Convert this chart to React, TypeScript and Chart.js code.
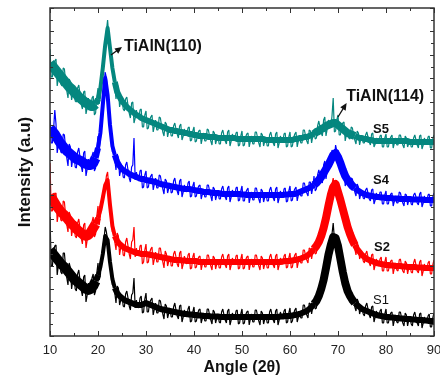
import React, { useEffect, useRef } from "react";
import { Chart, registerables } from "chart.js";

Chart.register(...registerables);

// 2θ angles (degrees), 0.25° sampling of the noisy patterns
const ANGLES = [
  10, 10.25, 10.5, 10.75, 11, 11.25, 11.5, 11.75, 12, 12.25, 12.5, 12.75, 13, 13.25, 13.5, 13.75, 14, 14.25, 14.5, 14.75,
  15, 15.25, 15.5, 15.75, 16, 16.25, 16.5, 16.75, 17, 17.25, 17.5, 17.75, 18, 18.25, 18.5, 18.75, 19, 19.25, 19.5, 19.75,
  20, 20.25, 20.5, 20.75, 21, 21.25, 21.5, 21.75, 22, 22.25, 22.5, 22.75, 23, 23.25, 23.5, 23.75, 24, 24.25, 24.5, 24.75,
  25, 25.25, 25.5, 25.75, 26, 26.25, 26.5, 26.75, 27, 27.25, 27.5, 27.75, 28, 28.25, 28.5, 28.75, 29, 29.25, 29.5, 29.75,
  30, 30.25, 30.5, 30.75, 31, 31.25, 31.5, 31.75, 32, 32.25, 32.5, 32.75, 33, 33.25, 33.5, 33.75, 34, 34.25, 34.5, 34.75,
  35, 35.25, 35.5, 35.75, 36, 36.25, 36.5, 36.75, 37, 37.25, 37.5, 37.75, 38, 38.25, 38.5, 38.75, 39, 39.25, 39.5, 39.75,
  40, 40.25, 40.5, 40.75, 41, 41.25, 41.5, 41.75, 42, 42.25, 42.5, 42.75, 43, 43.25, 43.5, 43.75, 44, 44.25, 44.5, 44.75,
  45, 45.25, 45.5, 45.75, 46, 46.25, 46.5, 46.75, 47, 47.25, 47.5, 47.75, 48, 48.25, 48.5, 48.75, 49, 49.25, 49.5, 49.75,
  50, 50.25, 50.5, 50.75, 51, 51.25, 51.5, 51.75, 52, 52.25, 52.5, 52.75, 53, 53.25, 53.5, 53.75, 54, 54.25, 54.5, 54.75,
  55, 55.25, 55.5, 55.75, 56, 56.25, 56.5, 56.75, 57, 57.25, 57.5, 57.75, 58, 58.25, 58.5, 58.75, 59, 59.25, 59.5, 59.75,
  60, 60.25, 60.5, 60.75, 61, 61.25, 61.5, 61.75, 62, 62.25, 62.5, 62.75, 63, 63.25, 63.5, 63.75, 64, 64.25, 64.5, 64.75,
  65, 65.25, 65.5, 65.75, 66, 66.25, 66.5, 66.75, 67, 67.25, 67.5, 67.75, 68, 68.25, 68.5, 68.75, 69, 69.25, 69.5, 69.75,
  70, 70.25, 70.5, 70.75, 71, 71.25, 71.5, 71.75, 72, 72.25, 72.5, 72.75, 73, 73.25, 73.5, 73.75, 74, 74.25, 74.5, 74.75,
  75, 75.25, 75.5, 75.75, 76, 76.25, 76.5, 76.75, 77, 77.25, 77.5, 77.75, 78, 78.25, 78.5, 78.75, 79, 79.25, 79.5, 79.75,
  80, 80.25, 80.5, 80.75, 81, 81.25, 81.5, 81.75, 82, 82.25, 82.5, 82.75, 83, 83.25, 83.5, 83.75, 84, 84.25, 84.5, 84.75,
  85, 85.25, 85.5, 85.75, 86, 86.25, 86.5, 86.75, 87, 87.25, 87.5, 87.75, 88, 88.25, 88.5, 88.75, 89, 89.25, 89.5, 89.75,
  90,
];

// 2θ angles (degrees), 0.5° sampling of the band centres
const CORE_ANGLES = [
  10, 10.5, 11, 11.5, 12, 12.5, 13, 13.5, 14, 14.5,
  15, 15.5, 16, 16.5, 17, 17.5, 18, 18.5, 19, 19.5,
  20, 20.5, 21, 21.5, 22, 22.5, 23, 23.5, 24, 24.5,
  25, 25.5, 26, 26.5, 27, 27.5, 28, 28.5, 29, 29.5,
  30, 30.5, 31, 31.5, 32, 32.5, 33, 33.5, 34, 34.5,
  35, 35.5, 36, 36.5, 37, 37.5, 38, 38.5, 39, 39.5,
  40, 40.5, 41, 41.5, 42, 42.5, 43, 43.5, 44, 44.5,
  45, 45.5, 46, 46.5, 47, 47.5, 48, 48.5, 49, 49.5,
  50, 50.5, 51, 51.5, 52, 52.5, 53, 53.5, 54, 54.5,
  55, 55.5, 56, 56.5, 57, 57.5, 58, 58.5, 59, 59.5,
  60, 60.5, 61, 61.5, 62, 62.5, 63, 63.5, 64, 64.5,
  65, 65.5, 66, 66.5, 67, 67.5, 68, 68.5, 69, 69.5,
  70, 70.5, 71, 71.5, 72, 72.5, 73, 73.5, 74, 74.5,
  75, 75.5, 76, 76.5, 77, 77.5, 78, 78.5, 79, 79.5,
  80, 80.5, 81, 81.5, 82, 82.5, 83, 83.5, 84, 84.5,
  85, 85.5, 86, 86.5, 87, 87.5, 88, 88.5, 89, 89.5,
  90,
];

// Intensity (a.u., with the stacking offset of each pattern)
const S5 = [
  287, 259, 259, 271, 275, 277, 250, 258, 266, 252, 250, 268, 267, 255, 245, 238, 257, 254, 236, 243,
  248, 235, 234, 248, 251, 242, 232, 227, 244, 245, 222, 228, 238, 230, 227, 238, 240, 221, 223, 239,
  248, 232, 238, 260, 270, 285, 292, 305, 316, 300, 286, 276, 270, 262, 250, 237, 252, 247, 229, 235,
  238, 227, 225, 237, 239, 231, 223, 218, 233, 234, 213, 218, 226, 220, 217, 226, 227, 209, 209, 221,
  225, 207, 208, 216, 219, 221, 204, 210, 216, 206, 206, 219, 218, 210, 204, 200, 214, 212, 199, 205,
  208, 200, 200, 210, 213, 207, 202, 198, 210, 212, 196, 200, 207, 202, 201, 208, 209, 195, 196, 205,
  209, 194, 195, 202, 205, 206, 192, 198, 203, 195, 195, 207, 206, 200, 195, 191, 205, 203, 192, 197,
  200, 192, 192, 203, 206, 200, 195, 192, 204, 206, 190, 195, 202, 197, 196, 203, 204, 190, 191, 200,
  205, 190, 191, 199, 202, 203, 189, 195, 200, 192, 192, 204, 204, 198, 193, 189, 203, 201, 190, 195,
  198, 190, 190, 201, 204, 198, 193, 190, 202, 204, 188, 193, 200, 195, 194, 202, 203, 189, 190, 199,
  204, 189, 190, 198, 202, 204, 189, 195, 201, 193, 193, 206, 206, 200, 195, 192, 206, 205, 193, 200,
  205, 197, 198, 210, 215, 209, 203, 200, 216, 219, 200, 207, 216, 211, 209, 220, 238, 204, 205, 216,
  221, 201, 201, 210, 213, 214, 195, 201, 206, 198, 197, 209, 208, 201, 196, 192, 205, 203, 191, 197,
  200, 193, 193, 201, 204, 199, 194, 191, 202, 203, 189, 192, 198, 194, 193, 200, 201, 189, 189, 198,
  202, 189, 189, 196, 199, 201, 188, 193, 198, 191, 191, 201, 201, 196, 191, 188, 200, 198, 189, 193,
  196, 189, 189, 198, 201, 196, 191, 188, 200, 201, 187, 191, 198, 193, 192, 199, 200, 188, 188, 197,
  201,
];

const S4 = [
  223, 193, 193, 207, 226, 212, 183, 192, 200, 184, 183, 202, 201, 188, 178, 170, 192, 189, 169, 177,
  183, 169, 168, 184, 188, 179, 170, 164, 183, 185, 160, 167, 177, 170, 167, 180, 184, 165, 168, 188,
  200, 186, 197, 219, 236, 252, 264, 258, 243, 228, 214, 205, 184, 187, 176, 166, 182, 178, 160, 166,
  170, 159, 158, 171, 174, 166, 158, 154, 169, 171, 198, 156, 164, 158, 155, 165, 166, 148, 149, 161,
  165, 148, 149, 157, 160, 162, 146, 152, 158, 148, 148, 161, 160, 153, 147, 142, 157, 155, 143, 148,
  153, 143, 144, 155, 158, 151, 145, 141, 155, 157, 139, 144, 151, 146, 144, 153, 155, 139, 140, 150,
  154, 139, 140, 147, 150, 151, 137, 142, 147, 139, 139, 151, 151, 145, 140, 135, 149, 147, 136, 141,
  145, 137, 137, 147, 150, 144, 139, 136, 148, 150, 134, 139, 146, 141, 140, 148, 149, 135, 136, 145,
  150, 135, 135, 143, 146, 148, 133, 139, 144, 136, 136, 148, 148, 142, 137, 133, 147, 145, 134, 139,
  143, 135, 135, 146, 149, 143, 138, 135, 147, 149, 133, 138, 145, 140, 139, 147, 148, 134, 135, 145,
  150, 135, 136, 144, 147, 149, 135, 141, 147, 140, 140, 153, 153, 147, 143, 140, 154, 154, 142, 148,
  160, 145, 147, 161, 166, 161, 155, 153, 171, 175, 157, 165, 176, 173, 173, 186, 184, 178, 191, 185,
  186, 169, 166, 172, 172, 171, 150, 155, 160, 150, 148, 158, 157, 150, 144, 140, 152, 149, 137, 142,
  145, 138, 137, 146, 148, 143, 137, 135, 146, 147, 132, 136, 143, 138, 137, 144, 144, 132, 132, 141,
  145, 132, 132, 139, 142, 143, 130, 135, 140, 133, 133, 144, 143, 138, 133, 130, 142, 141, 131, 136,
  139, 132, 131, 141, 143, 139, 133, 131, 142, 144, 129, 133, 140, 135, 134, 141, 142, 130, 130, 139,
  143,
];

const S2 = [
  173, 125, 125, 138, 142, 143, 114, 123, 132, 116, 115, 135, 134, 121, 111, 104, 124, 120, 100, 108,
  114, 100, 98, 113, 117, 108, 98, 92, 111, 113, 88, 96, 107, 101, 100, 114, 119, 99, 102, 120,
  130, 111, 120, 134, 143, 147, 150, 160, 164, 148, 126, 120, 104, 106, 94, 86, 103, 100, 81, 89,
  93, 81, 80, 94, 98, 90, 82, 77, 94, 96, 109, 79, 88, 82, 80, 90, 91, 72, 74, 86,
  92, 73, 74, 83, 87, 89, 71, 77, 84, 74, 74, 88, 88, 80, 74, 68, 85, 82, 70, 75,
  80, 70, 70, 82, 85, 79, 72, 69, 83, 85, 67, 72, 80, 74, 72, 81, 83, 67, 68, 79,
  83, 68, 69, 76, 79, 80, 66, 72, 77, 69, 69, 81, 81, 75, 70, 66, 80, 78, 67, 72,
  76, 68, 68, 79, 82, 76, 71, 68, 80, 82, 66, 71, 78, 73, 72, 80, 81, 67, 68, 77,
  82, 67, 68, 76, 79, 80, 66, 72, 77, 69, 69, 81, 81, 75, 70, 66, 80, 78, 67, 72,
  76, 68, 68, 79, 82, 76, 71, 68, 80, 82, 66, 71, 78, 73, 72, 80, 82, 68, 69, 78,
  83, 68, 69, 77, 81, 83, 68, 74, 80, 73, 73, 86, 86, 80, 76, 73, 88, 87, 77, 84,
  90, 82, 83, 98, 104, 100, 96, 96, 116, 123, 108, 120, 135, 135, 138, 152, 158, 147, 144, 152,
  154, 136, 128, 134, 133, 131, 108, 111, 113, 101, 96, 106, 104, 94, 87, 81, 93, 90, 77, 81,
  83, 75, 73, 82, 85, 79, 73, 70, 81, 82, 66, 71, 77, 72, 70, 77, 79, 65, 65, 74,
  79, 65, 65, 72, 75, 76, 62, 68, 73, 66, 65, 76, 77, 70, 65, 63, 75, 73, 62, 68,
  71, 64, 63, 73, 77, 71, 65, 63, 74, 76, 60, 65, 72, 67, 66, 73, 75, 62, 62, 71,
  76,
];

const S1 = [
  119, 70, 70, 85, 90, 91, 61, 71, 80, 64, 62, 83, 83, 69, 58, 51, 73, 68, 47, 56,
  61, 47, 45, 62, 66, 56, 46, 40, 59, 61, 34, 41, 53, 45, 43, 58, 62, 41, 45, 63,
  73, 56, 61, 78, 88, 97, 109, 104, 96, 84, 69, 63, 51, 54, 43, 33, 50, 48, 31, 36,
  41, 30, 29, 42, 45, 38, 30, 26, 41, 43, 58, 28, 36, 30, 28, 38, 40, 23, 24, 37,
  43, 24, 24, 33, 36, 38, 21, 27, 33, 23, 23, 36, 35, 28, 22, 17, 32, 30, 18, 23,
  28, 19, 19, 29, 33, 26, 20, 17, 30, 31, 14, 19, 26, 21, 19, 27, 30, 14, 15, 24,
  29, 14, 15, 22, 26, 27, 13, 18, 23, 15, 15, 27, 27, 21, 16, 12, 26, 24, 13, 18,
  22, 14, 13, 24, 27, 21, 16, 13, 25, 27, 11, 16, 23, 18, 17, 25, 26, 12, 13, 22,
  27, 12, 13, 21, 24, 25, 11, 17, 22, 14, 14, 26, 26, 20, 15, 11, 25, 23, 12, 17,
  21, 13, 13, 24, 27, 21, 16, 13, 25, 27, 11, 16, 24, 19, 18, 25, 27, 13, 14, 23,
  28, 13, 15, 22, 26, 28, 14, 19, 25, 18, 18, 31, 31, 25, 21, 18, 33, 32, 22, 29,
  35, 27, 28, 44, 50, 47, 43, 44, 64, 72, 58, 71, 86, 85, 88, 102, 113, 97, 90, 98,
  100, 80, 69, 73, 70, 67, 43, 46, 49, 39, 34, 43, 43, 35, 29, 25, 37, 34, 22, 27,
  29, 22, 20, 30, 33, 27, 21, 18, 29, 30, 14, 19, 25, 20, 18, 25, 27, 13, 13, 22,
  27, 13, 13, 20, 23, 24, 10, 16, 21, 14, 13, 24, 24, 18, 13, 10, 23, 21, 10, 16,
  19, 12, 10, 21, 24, 18, 13, 10, 22, 23, 8, 13, 19, 15, 13, 20, 22, 9, 9, 18,
  23,
];

// centre of each noisy band (0.5° sampling)
const S5_CORE = [
  273, 270, 267, 264, 261, 258, 255, 252, 249, 247,
  244, 242, 239, 237, 235, 233, 232, 230, 230, 232,
  237, 248, 268, 291, 308, 288, 268, 254, 244, 239,
  235, 232, 229, 227, 225, 223, 221, 220, 218, 217,
  216, 215, 214, 213, 212, 211, 210, 209, 208, 207,
  206, 206, 205, 205, 204, 204, 203, 203, 202, 202,
  201, 201, 200, 200, 200, 200, 199, 199, 199, 199,
  198, 198, 198, 198, 198, 198, 198, 198, 197, 197,
  197, 197, 197, 197, 197, 197, 197, 197, 197, 197,
  196, 196, 196, 196, 196, 196, 196, 196, 196, 196,
  196, 196, 197, 197, 198, 198, 199, 199, 200, 201,
  202, 204, 205, 207, 208, 210, 211, 212, 213, 213,
  211, 209, 207, 205, 203, 202, 201, 200, 199, 198,
  198, 197, 197, 196, 196, 195, 195, 195, 195, 195,
  195, 195, 195, 195, 195, 195, 195, 195, 195, 195,
  194, 194, 194, 194, 194, 194, 194, 194, 194, 194,
  194,
];

const S4_CORE = [
  208, 205, 202, 198, 194, 191, 188, 185, 183, 181,
  179, 177, 176, 175, 173, 172, 171, 171, 173, 178,
  188, 203, 231, 258, 241, 211, 190, 181, 174, 170,
  167, 165, 164, 162, 161, 160, 159, 158, 157, 157,
  156, 155.5, 155, 154.5, 154, 153, 152, 151.5, 151, 150.5,
  150, 149.5, 149, 148.5, 148, 147.5, 147, 147, 147, 146.5,
  146, 145.5, 145, 145, 144, 144, 144, 143.5, 143, 143,
  143, 142.5, 142, 142, 142, 142, 142, 142, 142, 142,
  141.5, 141.5, 141, 141, 141, 141, 141, 141, 141, 141,
  141, 141, 141, 141, 141, 141, 141, 141, 141.5, 141.5,
  142, 142, 142, 143, 144, 145, 146, 147, 148, 149.5,
  151, 153, 156, 159, 163, 167, 171, 176, 181, 183,
  179, 173, 166, 160, 156, 153, 150, 148, 146, 144.5,
  143, 142, 141, 140.5, 140, 139.5, 139, 139, 138.5, 138.5,
  138, 138, 138, 137.5, 137.5, 137.5, 137, 137, 137, 137,
  137, 136.5, 136.5, 136.5, 136.5, 136.5, 136, 136, 136, 136,
  136,
];

const S2_CORE = [
  141, 137, 133, 129, 126, 123, 121, 118, 115, 112,
  110, 107, 105, 103, 101, 100, 101, 104, 108, 112,
  118, 126, 138, 151, 156, 131, 110, 100, 95, 92,
  90, 88, 87, 86, 85, 84, 83, 83, 82, 82,
  82, 81.5, 81, 80.5, 80, 79.5, 79, 78.5, 78, 77.5,
  77, 76.5, 76, 76, 76, 75.5, 75.5, 75, 75, 75,
  75, 75, 74, 74, 74, 74, 74, 74, 74, 74,
  74, 74, 74, 74, 74, 74, 74, 74, 74, 74,
  74, 74, 74, 74, 74, 74, 74, 74, 74, 74,
  74, 74, 74, 74, 74, 74, 74, 74.5, 75, 75,
  75, 75.5, 76, 76.5, 77, 78, 79, 80, 82, 84,
  87, 90, 94, 100, 108, 118, 130, 141, 149, 152,
  144, 136, 127, 118, 109, 102, 96, 91, 87, 84,
  81, 79, 77, 76, 75, 74, 73, 72.5, 72, 71.5,
  71, 71, 70.5, 70.5, 70, 70, 70, 69.5, 69.5, 69,
  69, 69, 69, 68.5, 68.5, 68.5, 68, 68, 68, 68,
  68,
];

const S1_CORE = [
  86, 83, 80, 77, 74, 71, 69, 66, 63, 60,
  57, 55, 53, 51, 49, 47, 46, 47, 50, 55,
  61, 69, 82, 100, 96, 74, 57, 48, 43, 40,
  38, 36, 35, 34, 33, 32, 31, 31, 31, 32,
  33, 32, 31, 30, 29, 28, 27, 26.5, 26, 25.5,
  25, 24.5, 24, 23.5, 23, 22.5, 22, 22, 21.5, 21.5,
  21, 21, 20.5, 20.5, 20, 20, 20, 19.5, 19.5, 19.5,
  19.5, 19, 19, 19, 19, 19, 19, 19, 19, 19,
  19, 19, 19, 19, 19, 19, 19, 19, 19, 19,
  19, 19, 19, 19, 19, 19, 19.5, 19.5, 20, 20,
  20, 20.5, 21, 21.5, 22, 23, 24, 25, 27, 29,
  32, 35, 40, 47, 56, 68, 81, 91, 99, 98,
  90, 77, 64, 53, 45, 40, 36, 33, 31, 29,
  27, 26, 25, 24, 23, 22, 21, 20.5, 20, 19.5,
  19, 19, 18.5, 18.5, 18, 18, 17.5, 17.5, 17, 17,
  17, 16.5, 16.5, 16, 16, 16, 15.5, 15.5, 15, 15,
  15,
];

const SERIES_NAMES = ["S1", "S2", "S4", "S5"];
const PEAK_NAMES = ["TiAlN(110)", "TiAlN(114)"];
const X_MIN = 10;
const X_MAX = 90;
const Y_MAX = 328;

const FONT = 'Arial, "Liberation Sans", Helvetica, sans-serif';
const COLORS = ["#000000", "#ff0000", "#0000ff", "#05877f"];

// annotation anchors in data coordinates
const SERIES_LABEL_POS = [
  { x: 77.3, y: 36, bold: false },
  { x: 77.5, y: 89, bold: true },
  { x: 77.3, y: 156, bold: true },
  { x: 77.3, y: 207, bold: true },
];
const PEAK_LABEL_POS = [
  { x: 25.4, y: 289, ax0: 22.7, ay0: 281, ax1: 25.0, ay1: 289 },
  { x: 71.7, y: 239, ax0: 70.0, ay0: 219, ax1: 71.8, ay1: 233 },
];

const overlay = {
  id: "overlay",
  afterDraw(chart: any) {
    const { ctx, chartArea: a, scales } = chart;
    const x = scales.x;
    const y = scales.y;
    ctx.save();
    ctx.strokeStyle = "#333";
    ctx.lineWidth = 1;
    ctx.beginPath();
    for (let v = X_MIN; v <= X_MAX; v += 5) {
      const px = Math.round(x.getPixelForValue(v)) + 0.5;
      const len = v % 10 === 0 ? 5 : 3;
      ctx.moveTo(px, a.bottom);
      ctx.lineTo(px, a.bottom - len);
      ctx.moveTo(px, a.top);
      ctx.lineTo(px, a.top + len);
    }
    for (let k = 0; k <= 28; k++) {
      const py = Math.round(y.getPixelForValue((k * Y_MAX) / 28)) + 0.5;
      const len = k % 2 === 0 ? 4 : 3;
      ctx.moveTo(a.left, py);
      ctx.lineTo(a.left + len, py);
      ctx.moveTo(a.right, py);
      ctx.lineTo(a.right - len, py);
    }
    ctx.stroke();
    ctx.lineWidth = 1.5;
    ctx.strokeRect(a.left, a.top, a.right - a.left, a.bottom - a.top);

    // series labels
    ctx.fillStyle = "#111";
    ctx.textBaseline = "middle";
    ctx.textAlign = "left";
    SERIES_NAMES.forEach((name, i) => {
      const p = SERIES_LABEL_POS[i];
      ctx.font = `${p.bold ? "bold " : ""}13px ${FONT}`;
      ctx.fillText(name, x.getPixelForValue(p.x), y.getPixelForValue(p.y));
    });

    // peak labels with arrows
    ctx.font = `bold 16px ${FONT}`;
    PEAK_NAMES.forEach((name, i) => {
      const p = PEAK_LABEL_POS[i];
      ctx.fillStyle = "#111";
      ctx.fillText(name, x.getPixelForValue(p.x), y.getPixelForValue(p.y));
      const x0 = x.getPixelForValue(p.ax0);
      const y0 = y.getPixelForValue(p.ay0);
      const x1 = x.getPixelForValue(p.ax1);
      const y1 = y.getPixelForValue(p.ay1);
      const ang = Math.atan2(y1 - y0, x1 - x0);
      ctx.strokeStyle = "#111";
      ctx.lineWidth = 1.3;
      ctx.beginPath();
      ctx.moveTo(x0, y0);
      ctx.lineTo(x1 - 4 * Math.cos(ang), y1 - 4 * Math.sin(ang));
      ctx.stroke();
      const hl = 7;
      const hw = 3.2;
      ctx.beginPath();
      ctx.moveTo(x1, y1);
      ctx.lineTo(
        x1 - hl * Math.cos(ang) + hw * Math.sin(ang),
        y1 - hl * Math.sin(ang) - hw * Math.cos(ang)
      );
      ctx.lineTo(
        x1 - hl * Math.cos(ang) - hw * Math.sin(ang),
        y1 - hl * Math.sin(ang) + hw * Math.cos(ang)
      );
      ctx.closePath();
      ctx.fill();
    });
    ctx.restore();
  },
};

// width of the solid band core, by angle range
function coreWidth(angle: number): number {
  if (angle < 19.5) return 10;
  if (angle >= 20 && angle < 23.5) return 4;
  if (angle >= 65 && angle < 73.5) return 8;
  return 6;
}

export default function App() {
  const canvasRef = useRef<HTMLCanvasElement | null>(null);

  useEffect(() => {
    const canvas = canvasRef.current;
    if (!canvas) return;
    const noisy = [S1, S2, S4, S5];
    const cores = [S1_CORE, S2_CORE, S4_CORE, S5_CORE];
    const datasets: any[] = [];
    noisy.forEach((s, i) => {
      datasets.push({
        label: SERIES_NAMES[i],
        data: ANGLES.map((a, j) => ({ x: a, y: s[j] })),
        borderColor: COLORS[i],
        backgroundColor: COLORS[i],
        borderWidth: 1.2,
        borderJoinStyle: "bevel",
        pointRadius: 0,
        tension: 0,
        fill: false,
      });
      datasets.push({
        label: SERIES_NAMES[i] + " band",
        data: CORE_ANGLES.map((a, j) => ({ x: a, y: cores[i][j] })),
        borderColor: COLORS[i],
        backgroundColor: COLORS[i],
        borderWidth: 6,
        borderJoinStyle: "round",
        borderCapStyle: "butt",
        segment: {
          borderWidth: (c: any) => coreWidth(c.p0.parsed.x),
        },
        pointRadius: 0,
        tension: 0,
        fill: false,
      });
    });
    const chart = new Chart(canvas, {
      type: "line",
      data: { datasets },
      options: {
        animation: false,
        responsive: true,
        maintainAspectRatio: false,
        devicePixelRatio: 1,
        layout: { padding: { left: 0, right: 6, top: 8, bottom: 0 } },
        plugins: {
          legend: { display: false },
          tooltip: { enabled: false },
        },
        scales: {
          x: {
            type: "linear",
            min: X_MIN,
            max: X_MAX,
            grid: { display: false, drawTicks: false },
            border: { display: false },
            ticks: {
              stepSize: 10,
              padding: 7,
              color: "#222",
              font: { family: FONT, size: 13 },
              maxRotation: 0,
              autoSkip: false,
            },
            title: {
              display: true,
              text: "Angle (2θ)",
              color: "#111",
              font: { family: FONT, size: 16, weight: "bold" },
              padding: { top: 0, bottom: 0 },
            },
            afterFit(scale: any) {
              scale.height = 41;
              scale.paddingLeft = 0;
              scale.paddingRight = 0;
            },
          },
          y: {
            type: "linear",
            min: 0,
            max: Y_MAX,
            grid: { display: false, drawTicks: false },
            border: { display: false },
            ticks: { display: false },
            title: {
              display: true,
              text: "Intensity (a.u)",
              color: "#111",
              font: { family: FONT, size: 17, weight: "bold" },
              padding: { top: 15, bottom: 0 },
            },
            afterFit(scale: any) {
              scale.width = 50;
              scale.paddingTop = 0;
              scale.paddingBottom = 0;
            },
          },
        },
      },
      plugins: [overlay],
    } as any);
    return () => chart.destroy();
  }, []);

  return (
    <div style={{ position: "absolute", left: 0, top: 0, width: 440, height: 377 }}>
      <canvas ref={canvasRef} />
    </div>
  );
}
